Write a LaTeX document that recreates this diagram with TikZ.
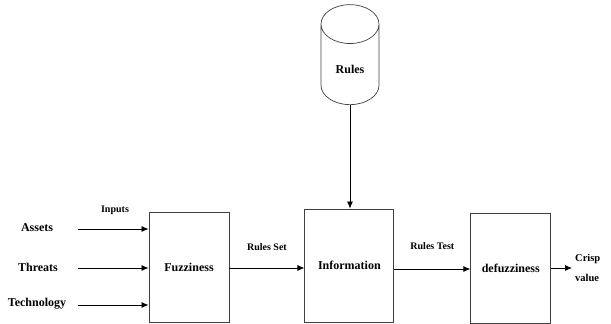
\documentclass[tikz,border=0pt]{standalone}
\usepackage{fontspec}
\setmainfont{Liberation Serif}
\usepackage{tikz}
\usetikzlibrary{positioning, shapes.geometric, arrows.meta}
\tikzset{>={Latex[length=7pt, width=6pt]}}

\begin{document}
\begin{tikzpicture}[x=1pt, y=1pt,
    every node/.style={font=\fontsize{12}{14}\selectfont\bfseries},
    block/.style={draw=black!75, line width=0.9pt, minimum width=80pt, minimum height=110pt},
    tag/.style={font=\fontsize{10}{12}\selectfont\bfseries},
    flow/.style={->, line width=0.8pt}]
  \useasboundingbox (0,0) rectangle (611,324);

  % START: Blocks ----------------------------------
  \node[block] (fuzz) at (189,57) {Fuzziness};
  \node[block, minimum width=89pt, minimum height=113pt, right=75pt of fuzz, yshift=1.5pt] (info) {Information};
  \node[block, right=76pt of info, yshift=-2.5pt] (defuzz) {defuzziness};
  % END: Blocks ------------------------------------

  % START: Rules store -----------------------------
  \node[draw=black!75, line width=0.7pt, cylinder, shape border rotate=90, aspect=1.1,
        minimum width=58pt, minimum height=100pt, anchor=south] (rules) at (350,219) {Rules};
  % END: Rules store -------------------------------

  % START: Inputs ----------------------------------
  \node (assets) at (37,96) {Assets};
  \node (threats) at (38,57) {Threats};
  \node (techno) at (37,20) {Technology};
  \coordinate (in_a) at (78,95);
  \coordinate (in_t) at (78,56);
  \coordinate (in_c) at (78,19);
  \node[tag] (inputs) at (115,114) {Inputs};
  % END: Inputs ------------------------------------

  % START: Output ----------------------------------
  \node[font=\fontsize{10.5}{20}\selectfont\bfseries, align=left, anchor=west, inner sep=3pt] (crisp) at (572,56) {Crisp\\value};
  % END: Output ------------------------------------

  \draw[flow] (in_a) -- (fuzz.west |- in_a);
  \draw[flow] (in_t) -- (fuzz.west |- in_t);
  \draw[flow] (in_c) -- (fuzz.west |- in_c);

  \draw[flow] (fuzz.east |- 0,56) -- (info.west |- 0,56)
        node[tag, pos=0.5, above=14pt] {Rules Set};
  \draw[flow] (info.east |- 0,55) -- (defuzz.west |- 0,55)
        node[tag, pos=0.5, above=16pt] {Rules Test};
  \draw[flow] (defuzz.east |- crisp.west) -- (crisp.west);

  \draw[flow] (rules) -- (rules |- info.north);
\end{tikzpicture}
\end{document}
